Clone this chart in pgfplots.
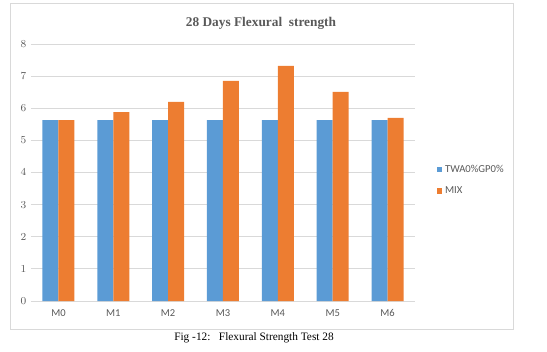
\documentclass[border=0pt]{standalone}
\usepackage{pgfplots}
\pgfplotsset{compat=1.18}
\usepackage{fontspec}
\setmainfont{Carlito}
\newfontfamily\seriffont{Liberation Serif}
\definecolor{cblue}{HTML}{5B9BD5}
\definecolor{corange}{HTML}{ED7D31}
\definecolor{tickgray}{HTML}{595959}
\definecolor{gridgray}{HTML}{D9D9D9}
\definecolor{framegray}{HTML}{D9D9D9}
\definecolor{titlegray}{HTML}{595959}
\begin{document}
\begin{tikzpicture}[x=0.75pt,y=0.75pt]
\useasboundingbox (0,0) rectangle (547,351);
\draw[color=framegray, line width=0.75pt] (10,22) rectangle (513,347);
\node[font=\seriffont\bfseries\fontsize{10}{12}\selectfont, text=titlegray] at (261,328) {28 Days Flexural\ \ strength};
\node[font=\seriffont\fontsize{8.5}{10}\selectfont] at (254,13) {Fig -12:\ \ \ Flexural Strength Test 28};
\begin{axis}[
  at={(23.25pt,37.5pt)}, anchor=south west,
  scale only axis, width=288pt, height=192.75pt,
  ybar=0pt, bar width=12pt,
  xmin=-0.5, xmax=6.5, ymin=0, ymax=8,
  xtick=data, xticklabels={M0,M1,M2,M3,M4,M5,M6},
  ytick={0,1,...,8},
  major tick length=0pt,
  ymajorgrids, grid style={gridgray, line width=0.75pt},
  axis line style={draw=none},
  ticklabel style={font=\fontsize{7.9}{9}\selectfont, text=tickgray},
  xticklabel style={yshift=-3pt},
  legend style={at={(1.045,0.47)}, anchor=west, draw=none, fill=none,
    font=\fontsize{8}{10}\selectfont, text=tickgray, row sep=5.5pt,
    legend cell align=left},
  legend image code/.code={\fill[#1] (0pt,-2.2pt) rectangle (4.4pt,2.2pt);},
]
\addplot[fill=cblue, draw=none] coordinates {(0,5.63) (1,5.63) (2,5.63) (3,5.63) (4,5.63) (5,5.63) (6,5.63)};
\addplot[fill=corange, draw=none] coordinates {(0,5.63) (1,5.88) (2,6.2) (3,6.85) (4,7.32) (5,6.51) (6,5.70)};
\legend{TWA0\%GP0\%, MIX}
\end{axis}
\end{tikzpicture}
\end{document}
